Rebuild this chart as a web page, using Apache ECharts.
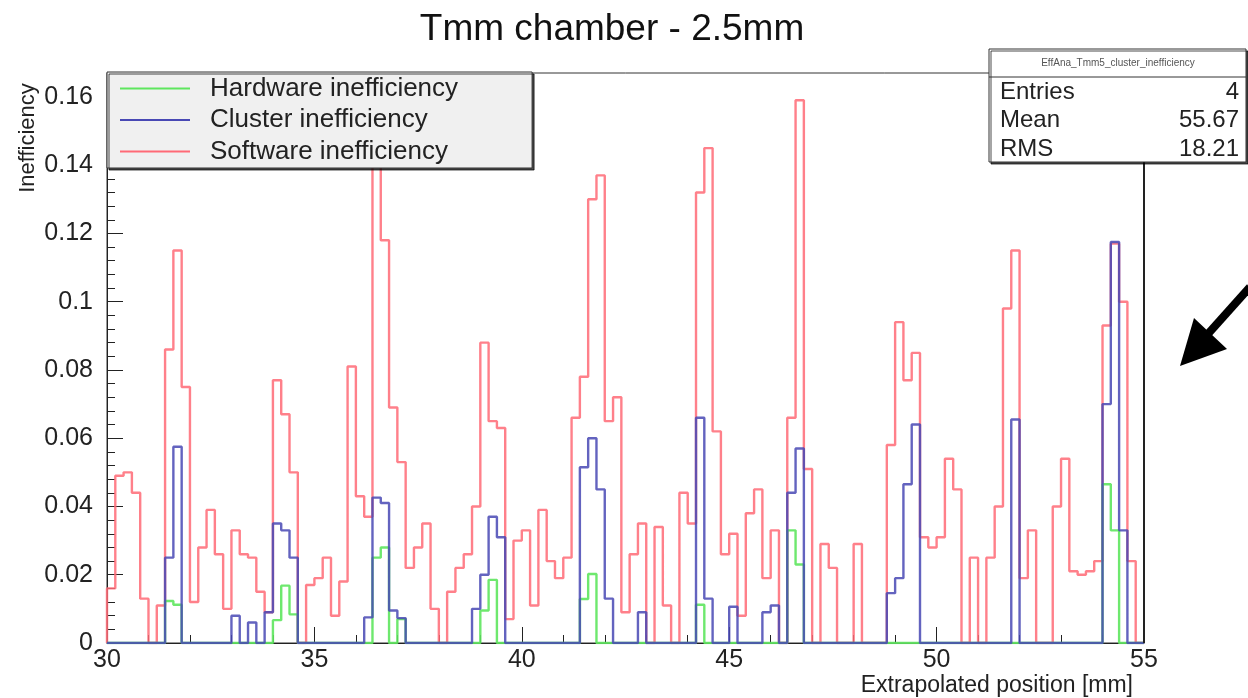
<!DOCTYPE html>
<html><head><meta charset="utf-8">
<script src="https://cdn.jsdelivr.net/npm/echarts@6/dist/echarts.min.js"></script>
<style>html,body{margin:0;padding:0;background:#fff}#c{width:1248px;height:698px}</style>
</head><body><div id="c"></div>
<script>
// Histogram: 125 bins of 0.2 mm from 30 to 55 mm
const xMin = 30, xMax = 55, binWidth = 0.2;
const xTicks = [30, 35, 40, 45, 50, 55];
const yTicks = [0, 0.02, 0.04, 0.06, 0.08, 0.1, 0.12, 0.14, 0.16];
const seriesNames = ['Hardware inefficiency', 'Cluster inefficiency', 'Software inefficiency'];

const hardware = [
  0,0,0,0,0,0,0,0.0123,0.0112,0,
  0,0,0,0,0,0,0,0,0,0,
  0.0067,0.0168,0.0084,0,0,0,0,0,0,0,
  0,0,0.025,0.028,0,0.007,0,0,0,0,
  0,0,0,0,0,0.0095,0.0185,0,0,0,
  0,0,0,0,0,0,0,0.0129,0.0202,0,
  0,0,0,0,0,0,0,0,0,0,
  0,0.0112,0,0,0,0,0,0,0,0,
  0,0,0.033,0.023,0,0,0,0,0,0,
  0,0,0,0,0,0,0,0,0,0,
  0,0,0,0,0,0,0,0,0,0,
  0,0,0,0,0,0,0,0,0,0,
  0.0465,0.033,0,0,0
];
const cluster = [
  0,0,0,0,0,0,0,0.025,0.0575,0,
  0,0,0,0,0,0.008,0,0.006,0,0.009,
  0.035,0.033,0.025,0,0,0,0,0,0,0,
  0,0.0075,0.0426,0.041,0.0095,0.0073,0,0,0,0,
  0,0,0,0,0.010,0.020,0.037,0.031,0,0,
  0,0,0,0,0,0,0,0.0515,0.060,0.045,
  0.013,0,0,0,0.009,0,0,0,0,0,
  0,0.066,0.013,0,0,0.0106,0,0,0,0.009,
  0.011,0,0.044,0.057,0,0,0,0,0,0,
  0,0,0,0,0.0146,0.019,0.0465,0.064,0,0,
  0,0,0,0,0,0,0,0,0,0.0655,
  0,0,0,0,0,0,0,0,0,0,
  0.070,0.1175,0.033,0,0
];
const software = [
  0.016,0.049,0.050,0.044,0.013,0,0.011,0.086,0.115,0.075,
  0.012,0.028,0.039,0.026,0.010,0.033,0.026,0.025,0.015,0.009,
  0.077,0.067,0.050,0,0.017,0.019,0.025,0.008,0.018,0.081,
  0.043,0.037,0.150,0.118,0.069,0.053,0.022,0.028,0.035,0.010,
  0,0.015,0.022,0.026,0.040,0.088,0.065,0.063,0.007,0.030,
  0.033,0.011,0.039,0.024,0.019,0.025,0.066,0.078,0.130,0.137,
  0.065,0.072,0.009,0.026,0.035,0,0.034,0.011,0,0.044,
  0.035,0.132,0.145,0.062,0.026,0.032,0.008,0.038,0.045,0.019,
  0.033,0,0.066,0.159,0.051,0,0.029,0.022,0,0,
  0.029,0,0,0,0.058,0.094,0.077,0.085,0.031,0.028,
  0.031,0.054,0.045,0,0.025,0,0.025,0.040,0.098,0.115,
  0.019,0.033,0,0,0.040,0.054,0.021,0.020,0.021,0.024,
  0.093,0.117,0.100,0.024,0
];

const statTitle = 'EffAna_Tmm5_cluster_inefficiency';
const statLabels = ['Entries', 'Mean', 'RMS'];
const statValues = ['4', '55.67', '18.21'];

function histPoints(vals) {
  const pts = [[xMin, 0]];
  vals.forEach((v, i) => pts.push([+(xMin + i * binWidth).toFixed(1), v]));
  pts.push([xMax, vals[vals.length - 1]]);
  pts.push([xMax, 0]);
  return pts;
}

const FONT = '"Liberation Sans", Arial, Helvetica, sans-serif';
const colors = { hw: '#5ee65e', cl: '#4848b4', sw: '#ff6a76' };

const chart = echarts.init(document.getElementById('c'), null, { renderer: 'canvas' });

const statGraphics = [
  { type: 'rect', shape: { x: 989, y: 49, width: 257, height: 113 },
    style: { fill: '#fff', stroke: '#333', lineWidth: 1, shadowColor: 'rgba(0,0,0,0.7)', shadowOffsetX: 2, shadowOffsetY: 2, shadowBlur: 0 }, z: 100 },
  { type: 'line', shape: { x1: 989, y1: 77, x2: 1246, y2: 77 }, style: { stroke: '#333', lineWidth: 1 }, z: 101 },
  { type: 'text', z: 101, style: { text: statTitle, x: 1118, y: 63, textAlign: 'center', align: 'center', textVerticalAlign: 'middle', verticalAlign: 'middle', fontSize: 10, fontFamily: FONT, fill: '#555' } }
];
statLabels.forEach((lab, i) => {
  const y = 92 + i * 28.5;
  statGraphics.push({ type: 'text', z: 101, style: { text: lab, x: 1000, y, textVerticalAlign: 'middle', verticalAlign: 'middle', fontSize: 24, fontFamily: FONT, fill: '#222' } });
  statGraphics.push({ type: 'text', z: 101, style: { text: statValues[i], x: 1239, y, textAlign: 'right', align: 'right', textVerticalAlign: 'middle', verticalAlign: 'middle', fontSize: 24, fontFamily: FONT, fill: '#222' } });
});

const option = {
  animation: false,
  backgroundColor: '#fff',
  grid: { left: 107, right: 104, top: 73, bottom: 55, show: true, borderColor: '#333', borderWidth: 1, backgroundColor: 'transparent' },
  legend: {
    data: seriesNames,
    orient: 'vertical', left: 107, top: 72,
    icon: 'rect', itemWidth: 70, itemHeight: 2, itemGap: 4.5,
    padding: [3, 74, 3, 13],
    backgroundColor: '#f0f0f0', borderColor: '#333', borderWidth: 1,
    shadowColor: 'rgba(0,0,0,0.7)', shadowOffsetX: 2, shadowOffsetY: 2, shadowBlur: 0,
    textStyle: { fontSize: 26, fontFamily: FONT, color: '#222', lineHeight: 27, padding: [0, 0, 0, 15] },
    z: 50
  },
  xAxis: {
    type: 'value', min: xMin, max: xMax, interval: 5,
    axisLine: { show: true, lineStyle: { color: '#222', width: 1 } },
    axisTick: { show: true, inside: true, length: 16, lineStyle: { color: '#222' } },
    minorTick: { show: true, splitNumber: 5, length: 8, lineStyle: { color: '#222' } },
    splitLine: { show: false },
    axisLabel: { fontSize: 25, fontFamily: FONT, color: '#222', margin: 5,
      formatter: v => xTicks.includes(v) ? String(v) : '' }
  },
  yAxis: {
    type: 'value', min: 0, max: 0.167, interval: 0.02,
    axisLine: { show: true, lineStyle: { color: '#222', width: 1 } },
    axisTick: { show: true, inside: true, length: 16, lineStyle: { color: '#222' } },
    minorTick: { show: true, splitNumber: 5, length: 8, lineStyle: { color: '#222' } },
    splitLine: { show: false },
    axisLabel: { fontSize: 25, fontFamily: FONT, color: '#222', margin: 14, showMaxLabel: false,
      formatter: v => { const t = yTicks.find(k => Math.abs(k - v) < 1e-9); return t === undefined ? '' : String(t); } }
  },
  series: [
    { name: seriesNames[2], type: 'line', step: 'end', showSymbol: false, symbol: 'none', z: 2,
      color: colors.sw, lineStyle: { color: colors.sw, width: 2.4, opacity: 0.85 }, data: histPoints(software) },
    { name: seriesNames[0], type: 'line', step: 'end', showSymbol: false, symbol: 'none', z: 3,
      color: colors.hw, lineStyle: { color: colors.hw, width: 2.4, opacity: 0.9 }, data: histPoints(hardware) },
    { name: seriesNames[1], type: 'line', step: 'end', showSymbol: false, symbol: 'none', z: 4,
      color: colors.cl, lineStyle: { color: colors.cl, width: 2.4, opacity: 0.85 }, data: histPoints(cluster) }
  ],
  graphic: [
    { type: 'text', style: { text: 'Tmm chamber - 2.5mm', x: 612, y: 30, textAlign: 'center', align: 'center', textVerticalAlign: 'middle', verticalAlign: 'middle', fontSize: 37, fontFamily: FONT, fill: '#111' } },
    { type: 'text', rotation: Math.PI / 2, x: 28, y: 138, style: { text: 'Inefficiency', x: 0, y: 0, textAlign: 'center', align: 'center', textVerticalAlign: 'middle', verticalAlign: 'middle', fontSize: 22, fontFamily: FONT, fill: '#222' } },
    { type: 'text', style: { text: 'Extrapolated position [mm]', x: 1133, y: 686, textAlign: 'right', align: 'right', textVerticalAlign: 'middle', verticalAlign: 'middle', fontSize: 23, fontFamily: FONT, fill: '#222' } },
    { type: 'line', shape: { x1: 1144, y1: 73, x2: 1144, y2: 643 }, style: { stroke: '#222', lineWidth: 2 }, z: 20 },
    ...statGraphics,
    { type: 'line', shape: { x1: 1250, y1: 287, x2: 1207, y2: 335 }, style: { stroke: '#000', lineWidth: 8 } },
    { type: 'polygon', shape: { points: [[1180, 366], [1194, 318], [1227, 349]] }, style: { fill: '#000' } }
  ]
};
chart.setOption(option);
</script>
</body></html>
